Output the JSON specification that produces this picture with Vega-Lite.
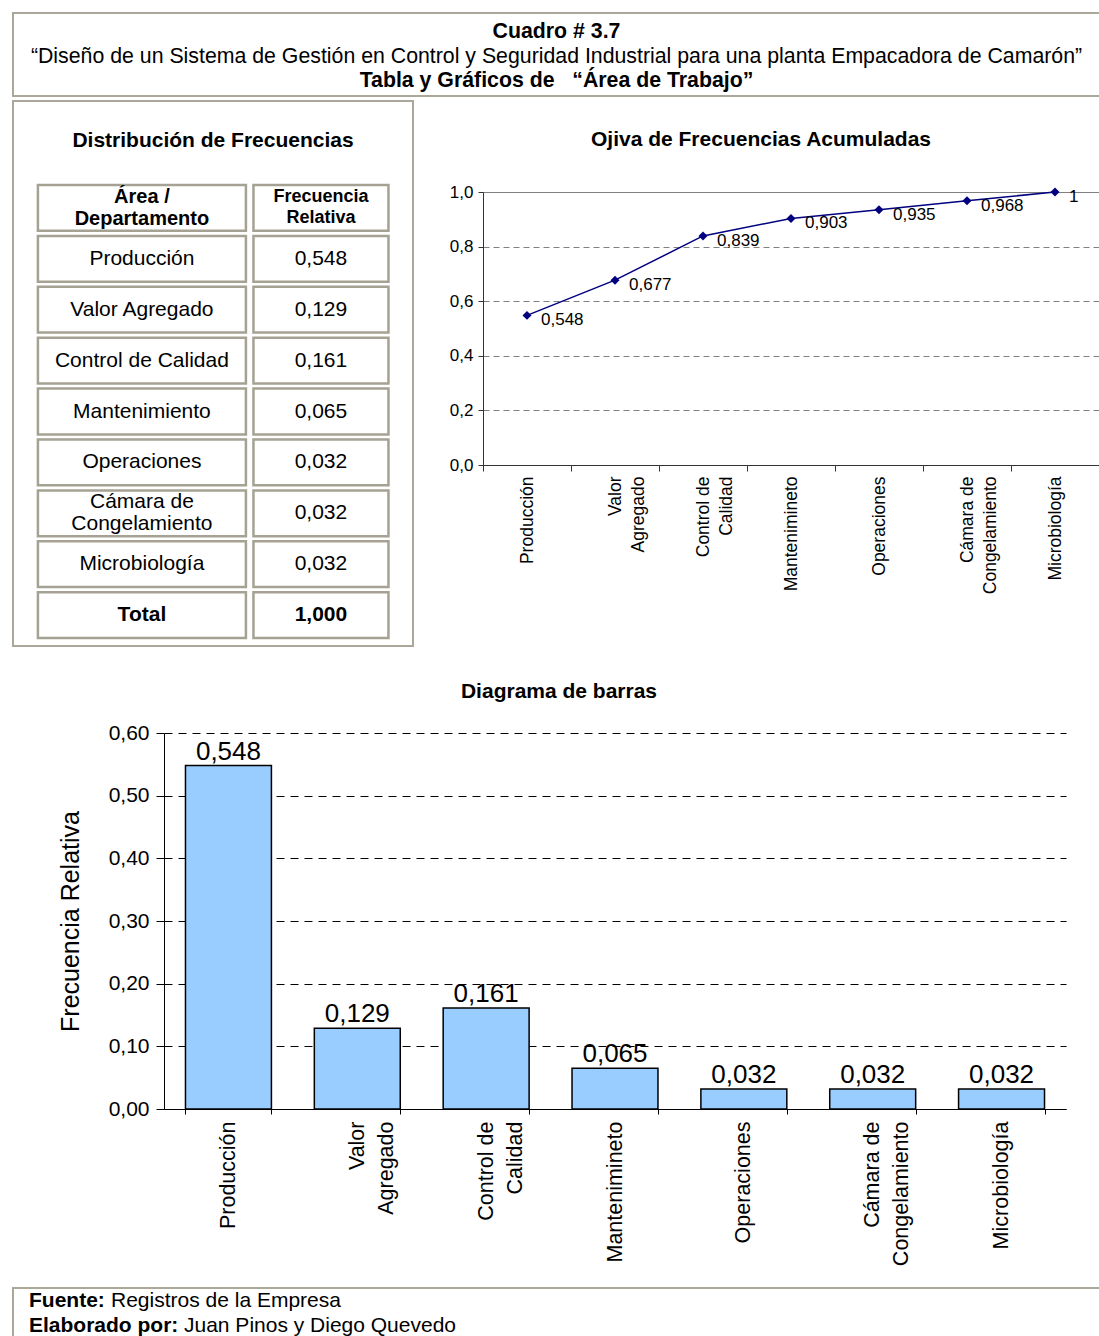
{
  "$schema": "https://vega.github.io/schema/vega-lite/v6.json",
  "background": "white",
  "padding": {"left": 12, "top": 12, "right": 0, "bottom": 0},
  "config": {
    "font": "Liberation Sans",
    "view": {"stroke": null},
    "locale": {"number": {"decimal": ",", "thousands": ".", "grouping": [3], "currency": ["", " $"]}},
    "axis": {"labelColor": "#000", "tickColor": "#000", "domainColor": "#000", "titleColor": "#000", "labelFont": "Liberation Sans", "titleFont": "Liberation Sans"},
    "title": {"color": "#000", "font": "Liberation Sans", "fontSize": 21, "fontWeight": "bold", "anchor": "middle"},
    "text": {"color": "#000"}
  },
  "datasets": {
    "areas": [
      {"area": "Producción", "etiqueta": "Producción", "frecuencia": 0.548, "acumulada": 0.548},
      {"area": "Valor Agregado", "etiqueta": "Valor\nAgregado", "frecuencia": 0.129, "acumulada": 0.677},
      {"area": "Control de Calidad", "etiqueta": "Control de\nCalidad", "frecuencia": 0.161, "acumulada": 0.839},
      {"area": "Mantenimiento", "etiqueta": "Mantenimineto", "frecuencia": 0.065, "acumulada": 0.903},
      {"area": "Operaciones", "etiqueta": "Operaciones", "frecuencia": 0.032, "acumulada": 0.935},
      {"area": "Cámara de Congelamiento", "etiqueta": "Cámara de\nCongelamiento", "frecuencia": 0.032, "acumulada": 0.968},
      {"area": "Microbiología", "etiqueta": "Microbiología", "frecuencia": 0.032, "acumulada": 1}
    ],
    "tabla": [
      {"area": "Área /\nDepartamento", "frecuencia": "Frecuencia\nRelativa"},
      {"area": "Producción", "frecuencia": "0,548"},
      {"area": "Valor Agregado", "frecuencia": "0,129"},
      {"area": "Control de Calidad", "frecuencia": "0,161"},
      {"area": "Mantenimiento", "frecuencia": "0,065"},
      {"area": "Operaciones", "frecuencia": "0,032"},
      {"area": "Cámara de\nCongelamiento", "frecuencia": "0,032"},
      {"area": "Microbiología", "frecuencia": "0,032"},
      {"area": "Total", "frecuencia": "1,000"}
    ]
  },
  "spacing": 3,
  "resolve": {"scale": {"x": "independent", "y": "independent"}},
  "vconcat": [
    {
      "width": 1087,
      "height": 83,
      "view": {"stroke": "#aca899", "strokeWidth": 2},
      "data": {"values": [
        {"linea": 1, "texto": "Cuadro # 3.7"},
        {"linea": 2, "texto": "“Diseño de un Sistema de Gestión en Control y Seguridad Industrial para una planta Empacadora de Camarón”"},
        {"linea": 3, "texto": "Tabla y Gráficos de \u00a0 “Área de Trabajo”"}
      ]},
      "encoding": {
        "y": {"field": "linea", "type": "ordinal", "axis": null, "scale": {"type": "point", "padding": 0.694, "align": 0.559}},
        "text": {"field": "texto"}
      },
      "layer": [
        {"transform": [{"filter": "datum.linea != 2"}], "mark": {"type": "text", "fontSize": 21.3, "fontWeight": "bold"}},
        {"transform": [{"filter": "datum.linea == 2"}], "mark": {"type": "text", "fontSize": 21.3}}
      ]
    },
    {
      "spacing": 34,
      "resolve": {"scale": {"x": "independent", "y": "independent"}},
      "vconcat": [
        {
          "spacing": 34,
          "resolve": {"scale": {"x": "independent", "y": "independent"}},
          "hconcat": [
            {
              "width": 400,
              "height": 545,
              "view": {"stroke": "#aca899", "strokeWidth": 2},
              "title": {"text": "Distribución de Frecuencias", "offset": -50},
              "data": {"name": "tabla"},
              "transform": [{"fold": ["area", "frecuencia"], "as": ["columna", "texto"]}],
              "encoding": {
                "x": {"field": "columna", "type": "nominal", "sort": null, "axis": null, "scale": {"paddingInner": 0, "paddingOuter": 0.117, "align": 0.94}},
                "y": {"field": "area", "type": "nominal", "sort": null, "axis": null, "scale": {"paddingInner": 0.1, "paddingOuter": 0.904, "align": 0.913}}
              },
              "layer": [
                {"transform": [{"filter": "datum.columna == 'area'"}], "mark": {"type": "rect", "width": 208, "fill": "white", "stroke": "#a5a294", "strokeWidth": 2.5}},
                {"transform": [{"filter": "datum.columna == 'frecuencia'"}], "mark": {"type": "rect", "width": 135, "fill": "white", "stroke": "#a5a294", "strokeWidth": 2.5}},
                {"transform": [{"filter": "datum.area != 'Total' && indexof(datum.area, 'Departamento') < 0 && indexof(datum.texto, '\\n') < 0"}], "mark": {"type": "text", "fontSize": 21}, "encoding": {"text": {"field": "texto"}}},
                {"transform": [{"filter": "indexof(datum.area, 'Departamento') < 0 && indexof(datum.texto, '\\n') >= 0"}], "mark": {"type": "text", "fontSize": 21, "lineBreak": "\n", "lineHeight": 22, "dy": -11}, "encoding": {"text": {"field": "texto"}}},
                {"transform": [{"filter": "datum.area == 'Total'"}], "mark": {"type": "text", "fontSize": 21, "fontWeight": "bold"}, "encoding": {"text": {"field": "texto"}}},
                {"transform": [{"filter": "indexof(datum.area, 'Departamento') >= 0 && datum.columna == 'area'"}], "mark": {"type": "text", "fontSize": 20, "fontWeight": "bold", "lineBreak": "\n", "lineHeight": 22, "dy": -11}, "encoding": {"text": {"field": "texto"}}},
                {"transform": [{"filter": "indexof(datum.area, 'Departamento') >= 0 && datum.columna == 'frecuencia'"}], "mark": {"type": "text", "fontSize": 18, "fontWeight": "bold", "lineBreak": "\n", "lineHeight": 21, "dy": -10.5}, "encoding": {"text": {"field": "texto"}}}
              ]
            },
            {
              "spacing": 0,
              "resolve": {"scale": {"x": "independent", "y": "independent"}},
              "vconcat": [
                {"width": 1, "height": 27, "data": {"values": []}, "mark": "point"},
                {
                  "width": 616,
                  "height": 273,
                  "view": {"stroke": "#808080", "strokeWidth": 1},
                  "title": {"text": "Ojiva de Frecuencias Acumuladas", "offset": 33, "dx": -30},
                  "data": {"name": "areas"},
                  "encoding": {
                    "x": {"field": "etiqueta", "type": "nominal", "sort": null,
                      "scale": {"type": "band", "paddingInner": 0, "paddingOuter": 0},
                      "axis": {"title": null, "labelAngle": -90, "labelFontSize": 17.5, "labelLineHeight": 23, "labelExpr": "split(datum.label, '\\n')", "tickBand": "extent", "tickSize": 6, "labelPadding": 5, "domainColor": "#333", "tickColor": "#333"}},
                    "y": {"field": "acumulada", "type": "quantitative", "scale": {"domain": [0, 1]},
                      "axis": {"title": null, "values": [0, 0.2, 0.4, 0.6, 0.8, 1], "format": ".1f", "labelFontSize": 17, "tickSize": 5, "labelPadding": 5, "grid": true, "gridDash": [6, 4], "gridColor": "#808080", "domainColor": "#333", "tickColor": "#333"}}
                  },
                  "layer": [
                    {"mark": {"type": "line", "color": "#000080", "strokeWidth": 1.5}},
                    {"mark": {"type": "point", "shape": "diamond", "filled": true, "size": 80, "color": "#000080", "opacity": 1}},
                    {"mark": {"type": "text", "align": "left", "dx": 14, "dy": 5, "fontSize": 17}, "encoding": {"text": {"field": "acumulada", "type": "quantitative", "format": ".3~f"}}}
                  ]
                }
              ]
            }
          ]
        },
        {
          "spacing": 21,
          "resolve": {"scale": {"x": "independent", "y": "independent"}},
          "vconcat": [
            {
              "spacing": 44,
              "resolve": {"scale": {"x": "independent", "y": "independent"}},
              "hconcat": [
                {"width": 1, "height": 1, "data": {"values": []}, "mark": "point"},
                {
                  "width": 902,
                  "height": 376,
                  "title": {"text": "Diagrama de barras", "offset": 20, "dx": -56},
                  "data": {"name": "areas"},
                  "encoding": {
                    "x": {"field": "etiqueta", "type": "nominal", "sort": null,
                      "scale": {"paddingInner": 0.333, "paddingOuter": 0.1667},
                      "axis": {"title": null, "labelAngle": -90, "labelFontSize": 21.5, "labelLineHeight": 29, "labelExpr": "split(datum.label, '\\n')", "tickBand": "extent", "tickSize": 5, "labelPadding": 7}},
                    "y": {"field": "frecuencia", "type": "quantitative", "scale": {"domain": [0, 0.6]},
                      "axis": {"title": "Frecuencia Relativa", "titleFontSize": 25, "titleFontWeight": "normal", "titlePadding": 25, "values": [0, 0.1, 0.2, 0.3, 0.4, 0.5, 0.6], "format": ".2f", "labelFontSize": 21, "tickSize": 8, "labelPadding": 7, "grid": true, "gridDash": [8, 6], "gridColor": "#000", "gridWidth": 1}}
                  },
                  "layer": [
                    {"mark": {"type": "bar", "fill": "#99ccff", "stroke": "#000", "strokeWidth": 1.5}},
                    {"mark": {"type": "text", "fontSize": 26, "baseline": "alphabetic", "dy": -6}, "encoding": {"text": {"field": "frecuencia", "type": "quantitative", "format": ".3f"}}}
                  ]
                }
              ]
            },
            {
              "width": 1087,
              "height": 50,
              "view": {"stroke": "#aca899", "strokeWidth": 2},
              "data": {"values": [
                {"etiqueta": "Fuente:", "texto": "Registros de la Empresa"},
                {"etiqueta": "Elaborado por:", "texto": "Juan Pinos y Diego Quevedo"}
              ]},
              "encoding": {
                "x": {"datum": "pie", "type": "nominal", "axis": null, "scale": {"type": "point", "padding": 0, "align": 0}},
                "y": {"field": "etiqueta", "type": "nominal", "sort": null, "axis": null, "scale": {"type": "point", "padding": 0.5}}
              },
              "layer": [
                {"mark": {"type": "text", "align": "left", "dx": 16, "fontSize": 21, "fontWeight": "bold"}, "encoding": {"text": {"field": "etiqueta"}}},
                {"transform": [{"filter": "datum.etiqueta == 'Fuente:'"}], "mark": {"type": "text", "align": "left", "dx": 98, "fontSize": 21}, "encoding": {"text": {"field": "texto"}}},
                {"transform": [{"filter": "datum.etiqueta == 'Elaborado por:'"}], "mark": {"type": "text", "align": "left", "dx": 171, "fontSize": 21}, "encoding": {"text": {"field": "texto"}}}
              ]
            }
          ]
        }
      ]
    }
  ]
}
